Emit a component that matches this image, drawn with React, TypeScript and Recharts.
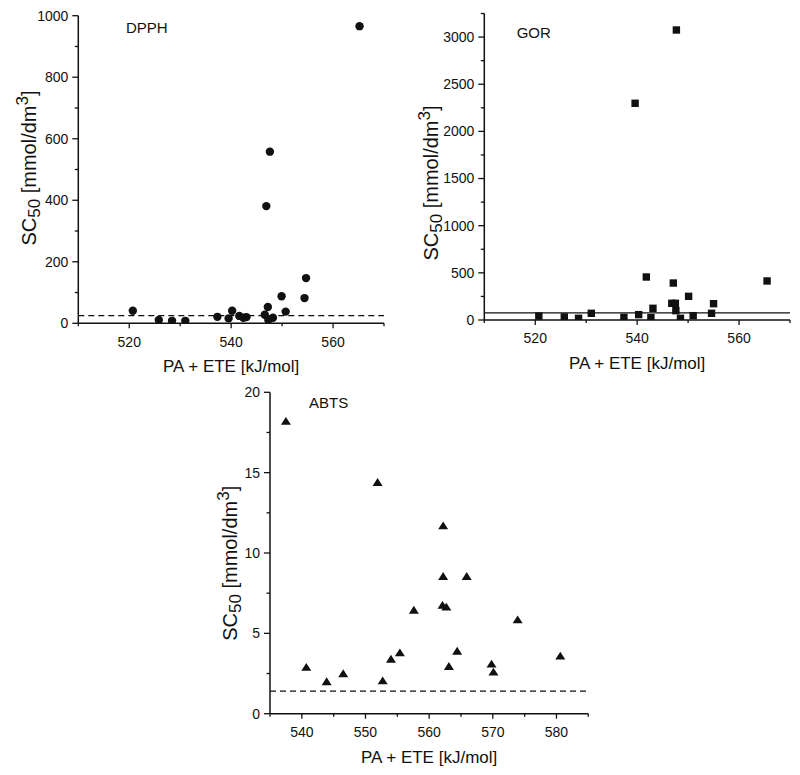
import { ScatterChart, Scatter, XAxis, YAxis, ReferenceLine } from 'recharts';

// DPPH panel
const DPPH_X = [520.7, 525.8, 528.4, 531.0, 537.3, 539.5, 540.2, 541.6, 542.4, 543.0, 546.6, 546.9, 547.2, 547.3, 547.6, 548.2, 549.9, 550.7, 554.4, 554.7, 565.2];
const DPPH_Y = [41, 11, 8, 8, 21, 16, 41, 24, 18, 20, 28, 381, 53, 11, 558, 18, 88, 38, 82, 147, 966];
const DPPH_REF = 25;

// GOR panel
const GOR_X = [520.7, 525.7, 528.5, 531.0, 537.4, 539.6, 540.3, 541.8, 542.7, 543.1, 546.8, 547.1, 547.5, 547.6, 547.7, 548.5, 550.1, 551.0, 554.6, 555.0, 565.5];
const GOR_Y = [42, 32, 18, 71, 28, 2298, 57, 456, 25, 124, 177, 392, 177, 99, 3075, 18, 251, 46, 71, 173, 414];
const GOR_REF = 75;

// ABTS panel
const ABTS_X = [537.5, 540.7, 543.9, 546.5, 551.9, 552.7, 554.0, 555.4, 557.6, 562.1, 562.2, 562.2, 562.7, 563.1, 564.4, 565.9, 569.8, 570.1, 573.9, 580.6];
const ABTS_Y = [18.2, 2.9, 2.0, 2.5, 14.4, 2.05, 3.4, 3.8, 6.45, 6.75, 11.7, 8.55, 6.65, 2.95, 3.9, 8.55, 3.1, 2.6, 5.85, 3.6];
const ABTS_REF = 1.4;

// ticks (all) and labelled ticks
const X_TICKS_TOP = [510, 520, 530, 540, 550, 560, 570];
const X_LABELS_TOP = [520, 540, 560];
const DPPH_Y_TICKS = [0, 100, 200, 300, 400, 500, 600, 700, 800, 900, 1000];
const DPPH_Y_LABELS = [0, 200, 400, 600, 800, 1000];
const GOR_Y_TICKS = [0, 250, 500, 750, 1000, 1250, 1500, 1750, 2000, 2250, 2500, 2750, 3000, 3250];
const GOR_Y_LABELS = [0, 500, 1000, 1500, 2000, 2500, 3000];
const ABTS_X_TICKS = [535, 540, 545, 550, 555, 560, 565, 570, 575, 580, 585];
const ABTS_X_LABELS = [540, 550, 560, 570, 580];
const ABTS_Y_TICKS = [0, 2.5, 5, 7.5, 10, 12.5, 15, 17.5, 20];
const ABTS_Y_LABELS = [0, 5, 10, 15, 20];

const INK = '#111';
const FONT = 'Arial, "Liberation Sans", Helvetica, sans-serif';

const toPoints = (xs: number[], ys: number[]) => xs.map((x, i) => ({ x, y: ys[i] }));

function YTick(props: any) {
  const { x, y, payload, labels } = props;
  const major = labels.includes(payload.value);
  return (
    <g>
      <line x1={x} x2={x - (major ? 6 : 3.5)} y1={y} y2={y} stroke={INK} strokeWidth={1.3} />
      {major && (
        <text x={x - 10} y={y} dy="0.35em" textAnchor="end" fontSize={14} fontFamily={FONT} fill={INK}>
          {payload.value}
        </text>
      )}
    </g>
  );
}

function XTick(props: any) {
  const { x, y, payload, labels } = props;
  const major = labels.includes(payload.value);
  return (
    <g>
      <line x1={x} x2={x} y1={y} y2={y + (major ? 5 : 3)} stroke={INK} strokeWidth={1.3} />
      {major && (
        <text x={x} y={y + 13.5} dy="0.71em" textAnchor="middle" fontSize={14} fontFamily={FONT} fill={INK}>
          {payload.value}
        </text>
      )}
    </g>
  );
}

const circle = (p: any) => <circle cx={p.cx} cy={p.cy} r={4.2} fill={INK} />;
const square = (p: any) => <rect x={p.cx - 3.7} y={p.cy - 3.7} width={7.4} height={7.4} fill={INK} />;
const triangle = (p: any) => (
  <polygon
    points={`${p.cx},${p.cy - 4.2} ${p.cx - 5},${p.cy + 3.6} ${p.cx + 5},${p.cy + 3.6}`}
    fill={INK}
  />
);

interface PanelProps {
  left: number;
  top: number;
  width: number;
  height: number;
  margin: { top: number; right: number; bottom: number; left: number };
  yAxisWidth: number;
  name: string;
  namePos: [number, number];
  yTitlePos: [number, number];
  data: { x: number; y: number }[];
  xDomain: [number, number];
  xTicks: number[];
  xLabels: number[];
  yDomain: [number, number];
  yTicks: number[];
  yLabels: number[];
  refY: number;
  refDash?: string;
  shape: (p: any) => any;
}

function Panel(p: PanelProps) {
  const plotLeft = p.margin.left + p.yAxisWidth;
  const plotRight = p.width - p.margin.right;
  const axisY = p.height - p.margin.bottom - 50;
  return (
    <div style={{ position: 'absolute', left: p.left, top: p.top }}>
      <ScatterChart width={p.width} height={p.height} margin={p.margin}>
        <XAxis
          type="number"
          dataKey="x"
          domain={p.xDomain}
          ticks={p.xTicks}
          allowDataOverflow
          height={50}
          tickSize={0}
          tickMargin={0}
          tickLine={false}
          axisLine={{ stroke: INK, strokeWidth: 1.5 }}
          tick={(t: any) => <XTick {...t} labels={p.xLabels} />}
          interval={0}
        />
        <YAxis
          type="number"
          dataKey="y"
          domain={p.yDomain}
          ticks={p.yTicks}
          allowDataOverflow
          width={p.yAxisWidth}
          tickSize={0}
          tickMargin={0}
          tickLine={false}
          axisLine={{ stroke: INK, strokeWidth: 1.5 }}
          tick={(t: any) => <YTick {...t} labels={p.yLabels} />}
          interval={0}
        />
        <ReferenceLine y={p.refY} stroke={INK} strokeWidth={1.3} strokeDasharray={p.refDash} />
        <Scatter data={p.data} isAnimationActive={false} shape={p.shape} />
        <text x={p.namePos[0]} y={p.namePos[1]} fontSize={15} fontFamily={FONT} fill={INK}>
          {p.name}
        </text>
        <text
          x={(plotLeft + plotRight) / 2}
          y={axisY + 49}
          textAnchor="middle"
          fontSize={17}
          fontFamily={FONT}
          fill={INK}
        >
          PA + ETE [kJ/mol]
        </text>
        <text
          x={p.yTitlePos[0]}
          y={p.yTitlePos[1]}
          transform={`rotate(-90 ${p.yTitlePos[0]} ${p.yTitlePos[1]})`}
          textAnchor="middle"
          fontSize={20}
          fontFamily={FONT}
          fill={INK}
        >
          SC<tspan dy={4} fontSize={17}>50</tspan>
          <tspan dy={-4}> [mmol/dm</tspan>
          <tspan dy={-8} fontSize={17}>3</tspan>
          <tspan dy={8}>]</tspan>
        </text>
      </ScatterChart>
    </div>
  );
}

export default function App() {
  return (
    <div style={{ position: 'absolute', left: 0, top: 0, width: 800, height: 775, background: '#fff' }}>
      <Panel
        left={0}
        top={0}
        width={400}
        height={380}
        margin={{ top: 15.7, right: 16, bottom: 6.7, left: 18.3 }}
        yAxisWidth={60}
        name="DPPH"
        namePos={[126, 33.3]}
        yTitlePos={[36, 168]}
        data={toPoints(DPPH_X, DPPH_Y)}
        xDomain={[510, 570]}
        xTicks={X_TICKS_TOP}
        xLabels={X_LABELS_TOP}
        yDomain={[0, 1000]}
        yTicks={DPPH_Y_TICKS}
        yLabels={DPPH_Y_LABELS}
        refY={DPPH_REF}
        refDash="6 4"
        shape={circle}
      />
      <Panel
        left={400}
        top={0}
        width={400}
        height={380}
        margin={{ top: 13.5, right: 10, bottom: 10, left: 20.3 }}
        yAxisWidth={64}
        name="GOR"
        namePos={[116.7, 38]}
        yTitlePos={[38.3, 183]}
        data={toPoints(GOR_X, GOR_Y)}
        xDomain={[510, 570]}
        xTicks={X_TICKS_TOP}
        xLabels={X_LABELS_TOP}
        yDomain={[0, 3250]}
        yTicks={GOR_Y_TICKS}
        yLabels={GOR_Y_LABELS}
        refY={GOR_REF}
        shape={square}
      />
      <Panel
        left={200}
        top={380}
        width={400}
        height={395}
        margin={{ top: 12.3, right: 11.7, bottom: 11.3, left: 20 }}
        yAxisWidth={50}
        name="ABTS"
        namePos={[109, 28.3]}
        yTitlePos={[37.3, 183.3]}
        data={toPoints(ABTS_X, ABTS_Y)}
        xDomain={[535, 585]}
        xTicks={ABTS_X_TICKS}
        xLabels={ABTS_X_LABELS}
        yDomain={[0, 20]}
        yTicks={ABTS_Y_TICKS}
        yLabels={ABTS_Y_LABELS}
        refY={ABTS_REF}
        refDash="6 4"
        shape={triangle}
      />
    </div>
  );
}
